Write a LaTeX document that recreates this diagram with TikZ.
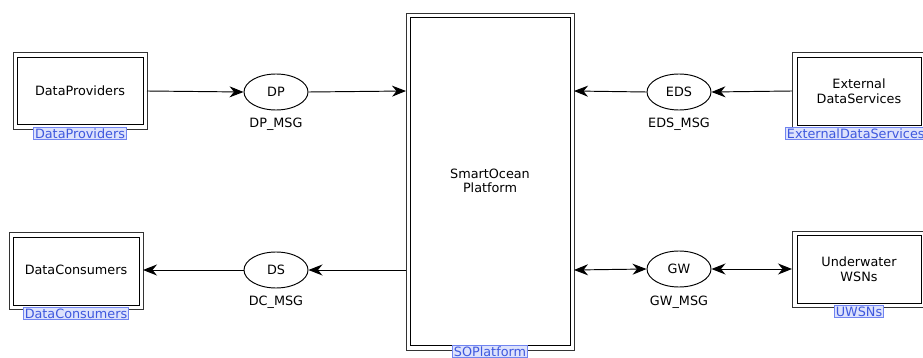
\documentclass[tikz,border=0pt]{standalone}
\usepackage{fontspec}
\setmainfont{DejaVu Sans}
\usetikzlibrary{arrows.meta,shapes.geometric}

\definecolor{tagfill}{RGB}{221,226,252}
\definecolor{tagdraw}{RGB}{112,132,240}
\definecolor{tagtext}{RGB}{62,88,222}

\tikzset{
  x=1pt, y=-1pt,
  every node/.style={font=\fontsize{12.8}{14.5}\selectfont},
  frameouter/.style={draw=black!80, line width=0.95pt},
  frameinner/.style={draw=black, line width=0.95pt, fill=white},
  msg/.style={draw, ellipse, line width=0.95pt, minimum width=64pt, minimum height=36pt, inner sep=0pt},
  tag/.style={draw=tagdraw, fill=tagfill, text=tagtext, line width=0.8pt,
    inner xsep=1.5pt, inner ysep=0pt, minimum height=12pt, anchor=north},
  flow/.style={line width=0.95pt, -{Stealth[length=14pt, width=11pt, inset=4.5pt]}},
  biflow/.style={line width=0.95pt, {Stealth[length=14pt, width=11pt, inset=4.5pt]}-{Stealth[length=14pt, width=11pt, inset=4.5pt]}},
}

\begin{document}
\begin{tikzpicture}
\useasboundingbox (0,0) rectangle (923,358);

% component frames: outer border plus inner border
\draw[frameouter] (13,52) rectangle (147,129);
\draw[frameinner] (17,57) rectangle (143,124);
\node (prov) at (80,91) {DataProviders};
\coordinate (provE) at (147,91);

\draw[frameouter] (9,232) rectangle (143,309);
\draw[frameinner] (13,237) rectangle (139,305);
\node (cons) at (76,270) {DataConsumers};
\coordinate (consE) at (143,270);

\draw[frameouter] (406,13) rectangle (574,350);
\draw[frameinner] (410,17) rectangle (570,345);
\node[align=center] (plat) at (490,181) {SmartOcean\\Platform};
\coordinate (platWtop) at (406,91);
\coordinate (platEtop) at (574,91);
\coordinate (platWbot) at (406,270);
\coordinate (platEbot) at (574,270);

\draw[frameouter] (792,52) rectangle (926,130);
\draw[frameinner] (797,57) rectangle (921,125);
\node[align=center] (ext) at (859,91) {External\\DataServices};
\coordinate (extW) at (792,91);

\draw[frameouter] (792,231) rectangle (926,307);
\draw[frameinner] (797,235) rectangle (921,303);
\node[align=center] (uw) at (859,269) {Underwater\\WSNs};
\coordinate (uwW) at (792,269);

% message ports
\node[msg] (dp) at (276,92) {DP};
\node at (276,124) {DP\_MSG};
\node[msg] (ds) at (276,270) {DS};
\node at (276,302) {DC\_MSG};
\node[msg] (eds) at (679,92) {EDS};
\node at (679,124) {EDS\_MSG};
\node[msg] (gw) at (679,269) {GW};
\node at (679,302) {GW\_MSG};

% instance tags
\node[tag] (tprov) at (80,127) {DataProviders\hspace{6pt}};
\node[tag] (tcons) at (76,307) {DataConsumers\hspace{6pt}};
\node[tag] (tplat) at (490,345) {SOPlatform\hspace{4pt}};
\node[tag, anchor=north west] (text) at (785,127) {ExternalDataServices};
\node[tag] (tuw) at (859,305) {UWSNs\hspace{4pt}};

% connectors
\draw[flow] (provE) -- (dp.west);
\draw[flow] (dp.east) -- (platWtop);
\draw[flow] (extW) -- (eds.east);
\draw[flow] (eds.west) -- (platEtop);
\draw[flow] (platWbot) -- (ds.east);
\draw[flow] (ds.west) -- (consE);
\draw[biflow] (platEbot) -- (gw.west);
\draw[biflow] (gw.east) -- (uwW);
\end{tikzpicture}
\end{document}
